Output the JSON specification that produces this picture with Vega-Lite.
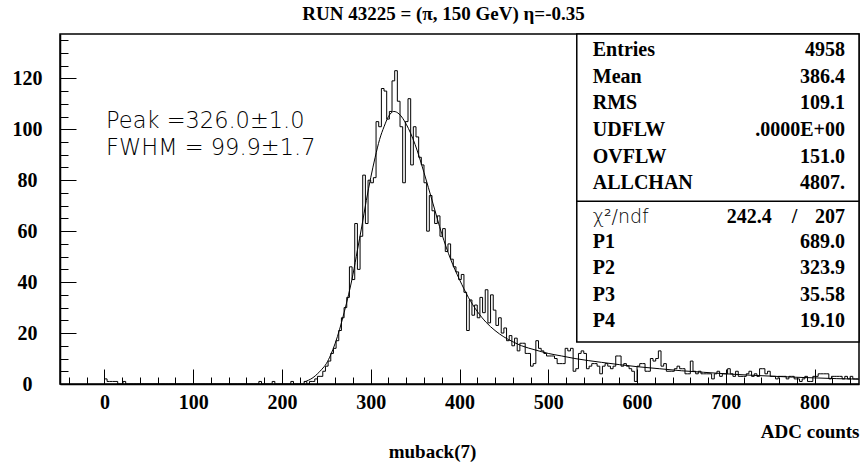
{
"$schema": "https://vega.github.io/schema/vega-lite/v6.json",
"width": 799, "height": 350,
"autosize": "none",
"padding": {"left": 60, "top": 34, "right": 1, "bottom": 79},
"background": "white",
"config": {
 "view": {"stroke": "black", "strokeWidth": 1.5},
 "axis": {"grid": false, "domainColor": "black", "domainWidth": 1.5, "tickColor": "black", "tickWidth": 1, "labelColor": "black", "titleColor": "black", "labelFont": "Liberation Serif", "labelFontWeight": "bold", "labelFontSize": 20, "titleFont": "Liberation Serif", "titleFontWeight": "bold", "titleFontSize": 19, "labelFlush": false, "labelOverlap": false}
},
"title": {"text": "RUN 43225 = (π, 150 GeV) η=-0.35", "font": "Liberation Serif", "fontWeight": "bold", "fontSize": 19, "anchor": "middle", "frame": "group", "dx": -16, "offset": 9, "color": "black"},
"datasets": {
 "hist": [
{"x":0,"n":2},{"x":3,"n":1},{"x":6,"n":1},{"x":9,"n":1},{"x":12,"n":1},{"x":15,"n":0},{"x":18,"n":0},{"x":21,"n":1},{"x":24,"n":0},
{"x":27,"n":0},{"x":30,"n":0},{"x":33,"n":0},{"x":36,"n":0},{"x":39,"n":0},{"x":42,"n":0},{"x":45,"n":0},{"x":48,"n":0},{"x":51,"n":0},{"x":54,"n":0},{"x":57,"n":0},{"x":60,"n":0},{"x":63,"n":0},{"x":66,"n":0},{"x":69,"n":0},{"x":72,"n":0},{"x":75,"n":0},{"x":78,"n":0},{"x":81,"n":0},{"x":84,"n":0},{"x":87,"n":0},{"x":90,"n":0},{"x":93,"n":0},{"x":96,"n":0},{"x":99,"n":0},{"x":102,"n":0},{"x":105,"n":0},{"x":108,"n":0},{"x":111,"n":0},{"x":114,"n":0},{"x":117,"n":0},{"x":120,"n":0},{"x":123,"n":0},{"x":126,"n":0},{"x":129,"n":0},{"x":132,"n":0},{"x":135,"n":0},{"x":138,"n":0},{"x":141,"n":0},{"x":144,"n":0},{"x":147,"n":0},{"x":150,"n":0},{"x":153,"n":0},{"x":156,"n":0},{"x":159,"n":0},{"x":162,"n":0},{"x":165,"n":0},{"x":168,"n":0},{"x":171,"n":0},
{"x":174,"n":1},{"x":177,"n":0},{"x":180,"n":0},{"x":183,"n":0},{"x":186,"n":0},{"x":189,"n":1},{"x":192,"n":0},{"x":195,"n":0},{"x":198,"n":0},{"x":201,"n":0},{"x":204,"n":0},{"x":207,"n":0},{"x":210,"n":1},{"x":213,"n":0},{"x":216,"n":0},{"x":219,"n":0},{"x":222,"n":0},{"x":225,"n":1},{"x":228,"n":0},
{"x":231,"n":1},{"x":234,"n":1},{"x":237,"n":2},{"x":240,"n":3},{"x":243,"n":3},{"x":246,"n":5},{"x":249,"n":7},{"x":252,"n":9},{"x":255,"n":12},{"x":258,"n":14},{"x":261,"n":17},{"x":264,"n":21},{"x":267,"n":26},{"x":270,"n":30},{"x":273,"n":34},{"x":276,"n":46},{"x":279,"n":41},{"x":282,"n":63},{"x":285,"n":45},{"x":288,"n":58},{"x":291,"n":82},{"x":294,"n":63},{"x":297,"n":80},{"x":300,"n":79},{"x":303,"n":81},{"x":306,"n":103},{"x":309,"n":101},{"x":312,"n":116},{"x":315,"n":115},{"x":318,"n":104},{"x":321,"n":107},{"x":324,"n":119},{"x":327,"n":123},{"x":330,"n":111},{"x":333,"n":101},{"x":336,"n":79},{"x":339,"n":103},{"x":342,"n":112},{"x":345,"n":86},{"x":348,"n":101},{"x":351,"n":97},{"x":354,"n":89},{"x":357,"n":86},{"x":360,"n":79},{"x":363,"n":60},{"x":366,"n":74},{"x":369,"n":68},{"x":372,"n":63},{"x":375,"n":66},{"x":378,"n":58},{"x":381,"n":61},{"x":384,"n":52},{"x":387,"n":55},{"x":390,"n":49},{"x":393,"n":46},{"x":396,"n":44},{"x":399,"n":41},{"x":402,"n":43},{"x":405,"n":36},{"x":408,"n":21},{"x":411,"n":33},{"x":414,"n":27},{"x":417,"n":31},{"x":420,"n":26},{"x":423,"n":34},{"x":426,"n":28},{"x":429,"n":37},{"x":432,"n":24},{"x":435,"n":35},{"x":438,"n":29},{"x":441,"n":23},{"x":444,"n":26},{"x":447,"n":20},{"x":450,"n":22},{"x":453,"n":17},{"x":456,"n":19},{"x":459,"n":15},{"x":462,"n":18},{"x":465,"n":13},{"x":468,"n":16},{"x":471,"n":16},{"x":474,"n":12},{"x":477,"n":12},{"x":480,"n":7},{"x":483,"n":8},
{"x":486,"n":17},{"x":489,"n":14},{"x":492,"n":13},{"x":495,"n":12},{"x":498,"n":11},{"x":501,"n":11},{"x":504,"n":11},{"x":507,"n":10},{"x":510,"n":8},{"x":513,"n":8},{"x":516,"n":8},{"x":519,"n":14},{"x":522,"n":13},{"x":525,"n":14},{"x":528,"n":5},{"x":531,"n":6},{"x":534,"n":12},{"x":537,"n":13},{"x":540,"n":12},{"x":543,"n":6},{"x":546,"n":7},{"x":549,"n":8},{"x":552,"n":8},{"x":555,"n":7},{"x":558,"n":4},{"x":561,"n":7},{"x":564,"n":8},{"x":567,"n":7},{"x":570,"n":6},{"x":573,"n":7},{"x":576,"n":11},{"x":579,"n":11},{"x":582,"n":7},{"x":585,"n":8},{"x":588,"n":7},{"x":591,"n":6},{"x":594,"n":5},{"x":597,"n":1},{"x":600,"n":7},{"x":603,"n":8},{"x":606,"n":8},{"x":609,"n":5},{"x":612,"n":5},{"x":615,"n":10},{"x":618,"n":9},{"x":621,"n":10},{"x":624,"n":13},{"x":627,"n":7},{"x":630,"n":8},{"x":633,"n":5},{"x":636,"n":5},{"x":639,"n":5},{"x":642,"n":6},{"x":645,"n":7},{"x":648,"n":6},{"x":651,"n":6},{"x":654,"n":4},{"x":657,"n":4},{"x":660,"n":9},{"x":663,"n":5},{"x":666,"n":4},{"x":669,"n":5},{"x":672,"n":4},{"x":675,"n":4},{"x":678,"n":4},{"x":681,"n":4},{"x":684,"n":2},{"x":687,"n":4},{"x":690,"n":5},{"x":693,"n":3},{"x":696,"n":4},{"x":699,"n":4},{"x":702,"n":6},{"x":705,"n":4},{"x":708,"n":3},{"x":711,"n":5},{"x":714,"n":3},{"x":717,"n":3},{"x":720,"n":3},{"x":723,"n":4},{"x":726,"n":5},{"x":729,"n":3},{"x":732,"n":4},{"x":735,"n":3},{"x":738,"n":6},{"x":741,"n":6},{"x":744,"n":4},{"x":747,"n":5},{"x":750,"n":3},{"x":753,"n":3},{"x":756,"n":2},{"x":759,"n":3},{"x":762,"n":3},{"x":765,"n":3},{"x":768,"n":2},{"x":771,"n":3},{"x":774,"n":3},{"x":777,"n":2},{"x":780,"n":2},{"x":783,"n":1},{"x":786,"n":2},{"x":789,"n":3},{"x":792,"n":1},{"x":795,"n":1},{"x":798,"n":3},{"x":801,"n":3},{"x":804,"n":4},{"x":807,"n":4},{"x":810,"n":4},{"x":813,"n":4},{"x":816,"n":2},{"x":819,"n":3},{"x":822,"n":3},{"x":825,"n":3},{"x":828,"n":3},{"x":831,"n":2},{"x":834,"n":3},{"x":837,"n":2},{"x":840,"n":3},{"x":843,"n":2},{"x":846,"n":2},{"x":849,"n":2}
 ],
 "fit": [
{"x":225,"f":0.8},{"x":230,"f":1.5},{"x":235,"f":2.5},{"x":240,"f":4},{"x":245,"f":5.8},{"x":250,"f":8},{"x":255,"f":11.5},{"x":260,"f":16},{"x":265,"f":21.5},{"x":270,"f":28},{"x":275,"f":35},{"x":280,"f":43},{"x":285,"f":52.5},{"x":290,"f":62},{"x":295,"f":72},{"x":300,"f":81},{"x":305,"f":89},{"x":310,"f":96},{"x":315,"f":101},{"x":320,"f":105},{"x":326,"f":107},{"x":332,"f":106},{"x":340,"f":102},{"x":350,"f":94},{"x":360,"f":83},{"x":370,"f":71},{"x":380,"f":59},{"x":390,"f":49},{"x":400,"f":41},{"x":410,"f":34},{"x":420,"f":28.5},{"x":430,"f":24.2},{"x":440,"f":21},{"x":450,"f":18.5},{"x":460,"f":16.6},{"x":470,"f":15},{"x":485,"f":13.4},{"x":500,"f":12},{"x":515,"f":11},{"x":530,"f":10},{"x":545,"f":9.2},{"x":560,"f":8.5},{"x":580,"f":7.6},{"x":600,"f":6.8},{"x":625,"f":6},{"x":650,"f":5.2},{"x":675,"f":4.6},{"x":700,"f":4},{"x":725,"f":3.5},{"x":750,"f":3.1},{"x":775,"f":2.7},{"x":800,"f":2.4},{"x":825,"f":2.1},{"x":850,"f":1.9}
 ],
 "box": [{"x1":532.1,"x2":850,"y1":16.5,"y2":137.4,"sep":71.7}],
 "stats": [
{"k":"Entries","v":"4958","y":131.1},{"k":"Mean","v":"386.4","y":120.6},{"k":"RMS","v":"109.1","y":110.2},{"k":"UDFLW","v":".0000E+00","y":99.6},{"k":"OVFLW","v":"151.0","y":89.3},{"k":"ALLCHAN","v":"4807.","y":78.9},
{"k":"P1","v":"689.0","y":55.6},{"k":"P2","v":"323.9","y":45.4},{"k":"P3","v":"35.58","y":35.0},{"k":"P4","v":"19.10","y":24.8}
 ],
 "chi": [{"k":"χ²/ndf","a":"242.4","s":"/","v":"207","y":65.7}],
 "notes": [{"t":"Peak =326.0±1.0","y":103.2},{"t":"FWHM = 99.9±1.7","y":92.5}]
},
"layer": [
 {"data": {"name": "hist"},
  "mark": {"type": "line", "interpolate": "step-after", "color": "black", "strokeWidth": 1},
  "encoding": {
   "x": {"field": "x", "type": "quantitative", "scale": {"domain": [-50, 850], "nice": false, "zero": false},
     "axis": {"orient": "bottom", "values": [0,100,200,300,400,500,600,700,800], "tickSize": -15, "labelPadding": 33, "labelBaseline": "middle", "title": "ADC counts", "titleAnchor": "end", "titlePadding": 10}},
   "y": {"field": "n", "type": "quantitative", "scale": {"domain": [0, 137.4], "nice": false},
     "axis": {"orient": "left", "values": [0,20,40,60,80,100,120], "tickSize": -16, "labelPadding": 49, "labelAlign": "center", "labelBaseline": "middle", "title": null}}
  }},
 {"data": {"name": "fit"},
  "mark": {"type": "line", "interpolate": "monotone", "color": "black", "strokeWidth": 1},
  "encoding": {
   "x": {"field": "x", "type": "quantitative",
     "axis": {"orient": "bottom", "values": [-40,-20,0,20,40,60,80,100,120,140,160,180,200,220,240,260,280,300,320,340,360,380,400,420,440,460,480,500,520,540,560,580,600,620,640,660,680,700,720,740,760,780,800,820,840], "tickSize": -7, "labels": false, "domain": false, "title": "muback(7)", "titlePadding": 58, "titleX": 372}},
   "y": {"field": "f", "type": "quantitative",
     "axis": {"orient": "left", "values": [5,10,15,20,25,30,35,40,45,50,55,60,65,70,75,80,85,90,95,100,105,110,115,120,125,130,135], "tickSize": -8, "labels": false, "domain": false, "title": null}}
  }},
 {"data": {"name": "box"},
  "mark": {"type": "rect", "fill": "white", "stroke": "black", "strokeWidth": 1.5},
  "encoding": {
   "x": {"field": "x1", "type": "quantitative", "axis": null}, "x2": {"field": "x2"},
   "y": {"field": "y1", "type": "quantitative", "axis": null}, "y2": {"field": "y2"}
  }},
 {"data": {"name": "box"},
  "mark": {"type": "rule", "color": "black", "strokeWidth": 1.5},
  "encoding": {
   "x": {"field": "x1", "type": "quantitative", "axis": null}, "x2": {"field": "x2"},
   "y": {"field": "sep", "type": "quantitative", "axis": null}
  }},
 {"data": {"name": "stats"},
  "mark": {"type": "text", "align": "left", "baseline": "middle", "font": "Liberation Serif", "fontWeight": "bold", "fontSize": 20, "color": "black"},
  "encoding": {"x": {"datum": 550.1, "type": "quantitative", "axis": null}, "y": {"field": "y", "type": "quantitative", "axis": null}, "text": {"field": "k"}}},
 {"data": {"name": "stats"},
  "mark": {"type": "text", "align": "right", "baseline": "middle", "font": "Liberation Serif", "fontWeight": "bold", "fontSize": 20, "color": "black"},
  "encoding": {"x": {"datum": 834.2, "type": "quantitative", "axis": null}, "y": {"field": "y", "type": "quantitative", "axis": null}, "text": {"field": "v"}}},
 {"data": {"name": "chi"},
  "mark": {"type": "text", "align": "left", "baseline": "middle", "font": "DejaVu Sans", "fontWeight": 200, "fontSize": 19, "color": "black"},
  "encoding": {"x": {"datum": 550.1, "type": "quantitative", "axis": null}, "y": {"field": "y", "type": "quantitative", "axis": null}, "text": {"field": "k"}}},
 {"data": {"name": "chi"},
  "mark": {"type": "text", "align": "right", "baseline": "middle", "font": "Liberation Serif", "fontWeight": "bold", "fontSize": 20, "color": "black"},
  "encoding": {"x": {"datum": 751.6, "type": "quantitative", "axis": null}, "y": {"field": "y", "type": "quantitative", "axis": null}, "text": {"field": "a"}}},
 {"data": {"name": "chi"},
  "mark": {"type": "text", "align": "center", "baseline": "middle", "font": "Liberation Serif", "fontWeight": "bold", "fontSize": 20, "color": "black"},
  "encoding": {"x": {"datum": 777.5, "type": "quantitative", "axis": null}, "y": {"field": "y", "type": "quantitative", "axis": null}, "text": {"field": "s"}}},
 {"data": {"name": "chi"},
  "mark": {"type": "text", "align": "right", "baseline": "middle", "font": "Liberation Serif", "fontWeight": "bold", "fontSize": 20, "color": "black"},
  "encoding": {"x": {"datum": 834.2, "type": "quantitative", "axis": null}, "y": {"field": "y", "type": "quantitative", "axis": null}, "text": {"field": "v"}}},
 {"data": {"name": "notes"},
  "mark": {"type": "text", "align": "left", "baseline": "middle", "font": "DejaVu Sans", "fontWeight": 200, "fontSize": 22.5, "color": "black"},
  "encoding": {"x": {"datum": 1.9, "type": "quantitative", "axis": null}, "y": {"field": "y", "type": "quantitative", "axis": null}, "text": {"field": "t"}}}
],
"resolve": {"axis": {"x": "independent", "y": "independent"}}
}
